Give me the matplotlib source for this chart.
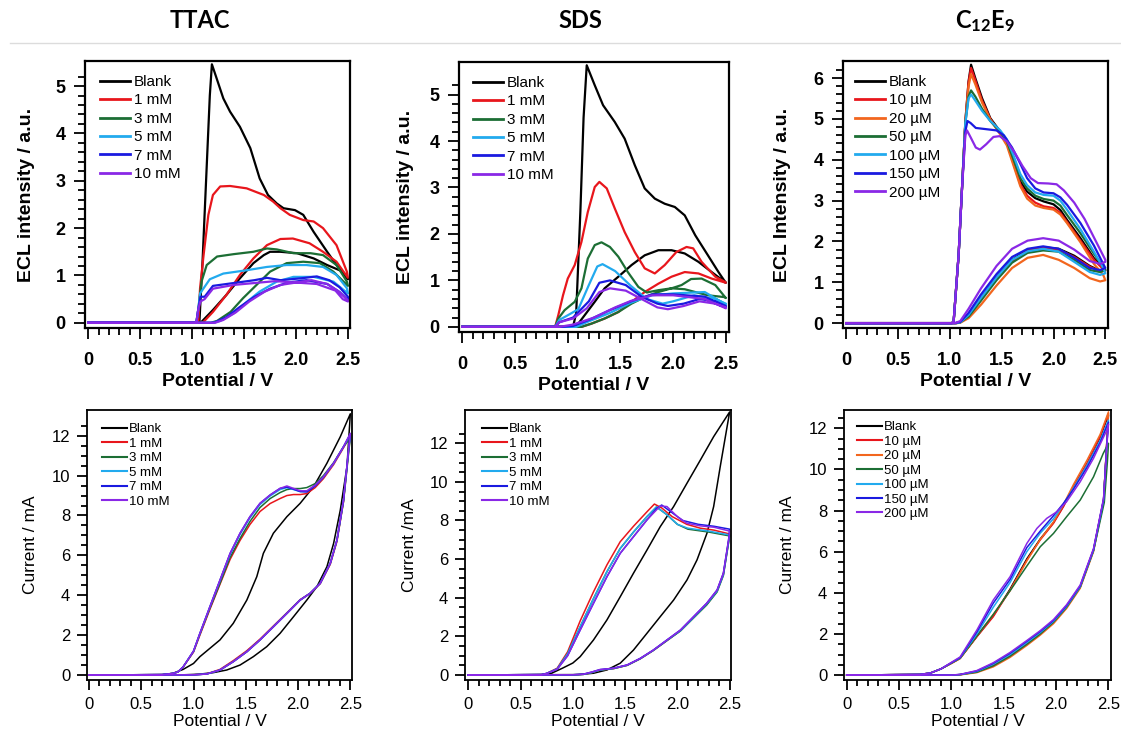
"""
ECL intensity and cyclic voltammetry for TTAC, SDS and C12E9 surfactants.
Six panels: ECL (top row) and current (bottom row) vs. potential.
"""
import numpy as np
import matplotlib
matplotlib.use("Agg")
import matplotlib.pyplot as plt
from matplotlib.lines import Line2D

plt.rcParams['font.family'] = ['Liberation Sans', 'DejaVu Sans']
plt.rcParams['mathtext.fontset'] = 'custom'
plt.rcParams['mathtext.rm'] = 'Lato:bold'
plt.rcParams['mathtext.it'] = 'Lato:bold'

# ---------------------------------------------------------------- colours
C_BLANK = '#000000'
C_RED = '#e8161c'
C_ORANGE = '#f2661e'
C_GREEN = '#1c6e34'
C_CYAN = '#22aaee'
C_BLUE = '#1a1ae0'
C_PURPLE = '#8a28e6'

# ---------------------------------------------------------------- labels
MM_LABELS = ['Blank', '1 mM', '3 mM', '5 mM', '7 mM', '10 mM']
UM_LABELS = ['Blank', '10 µM', '20 µM', '50 µM', '100 µM', '150 µM', '200 µM']
MM_COLORS = [C_BLANK, C_RED, C_GREEN, C_CYAN, C_BLUE, C_PURPLE]
UM_COLORS = [C_BLANK, C_RED, C_ORANGE, C_GREEN, C_CYAN, C_BLUE, C_PURPLE]

# ---------------------------------------------------------------- TTAC ECL  (potential V, intensity a.u.)
TTAC_ECL_BLANK = [(0, 0), (1.05, 0), (1.07, 0.02), (1.10, 1.3), (1.14, 3.3), (1.17, 4.8), (1.19, 5.46),
                  (1.23, 5.2), (1.30, 4.74), (1.365, 4.46), (1.46, 4.14), (1.56, 3.69), (1.65, 3.05),
                  (1.73, 2.70), (1.815, 2.52), (1.88, 2.42), (1.99, 2.38), (2.07, 2.28), (2.17, 1.92),
                  (2.30, 1.50), (2.39, 1.22), (2.49, 0.97), (2.50, 0.92), (2.43, 1.10), (2.30, 1.22),
                  (2.17, 1.36), (2.01, 1.47), (1.85, 1.50), (1.75, 1.50), (1.69, 1.43), (1.59, 1.26),
                  (1.46, 0.94), (1.33, 0.59), (1.20, 0.27), (1.09, 0.02), (1.05, 0), (0, 0)]
TTAC_ECL_1MM = [(0, 0), (1.03, 0), (1.06, 0.05), (1.076, 0.73), (1.11, 1.43), (1.156, 2.28), (1.20, 2.70),
                (1.27, 2.88), (1.365, 2.89), (1.525, 2.84), (1.69, 2.70), (1.78, 2.56), (1.85, 2.42),
                (1.94, 2.28), (2.07, 2.17), (2.17, 2.14), (2.26, 2.0), (2.39, 1.64), (2.49, 1.08),
                (2.50, 0.95), (2.39, 1.29), (2.26, 1.50), (2.13, 1.68), (1.97, 1.78), (1.85, 1.77),
                (1.72, 1.64), (1.59, 1.36), (1.46, 1.01), (1.33, 0.59), (1.20, 0.23), (1.11, 0.02),
                (1.08, 0), (0, 0)]
TTAC_ECL_3MM = [(0, 0), (1.04, 0), (1.06, 0.3), (1.09, 0.87), (1.14, 1.22), (1.24, 1.40), (1.40, 1.45),
                (1.59, 1.50), (1.72, 1.57), (1.815, 1.55), (1.975, 1.47), (2.14, 1.47), (2.26, 1.43),
                (2.39, 1.22), (2.49, 0.87), (2.50, 0.78), (2.36, 1.08), (2.23, 1.26), (2.07, 1.29),
                (1.91, 1.26), (1.75, 1.08), (1.62, 0.80), (1.49, 0.52), (1.37, 0.23), (1.24, 0.04),
                (1.18, 0), (0, 0)]
TTAC_ECL_5MM = [(0, 0), (1.04, 0), (1.06, 0.3), (1.076, 0.62), (1.17, 0.92), (1.30, 1.04), (1.525, 1.11),
                (1.72, 1.18), (1.91, 1.22), (2.10, 1.22), (2.26, 1.18), (2.39, 1.01), (2.49, 0.73),
                (2.50, 0.62), (2.36, 0.87), (2.17, 0.97), (1.975, 0.97), (1.815, 0.87), (1.65, 0.66),
                (1.525, 0.44), (1.40, 0.20), (1.27, 0.04), (1.20, 0), (0, 0)]
TTAC_ECL_7MM = [(0, 0), (1.04, 0), (1.06, 0.3), (1.08, 0.55), (1.12, 0.55), (1.20, 0.78), (1.40, 0.84),
                (1.60, 0.90), (1.72, 0.95), (1.85, 0.90), (2.05, 0.94), (2.20, 0.98), (2.32, 0.90),
                (2.42, 0.75), (2.50, 0.55), (2.50, 0.48), (2.42, 0.65), (2.30, 0.82), (2.10, 0.90),
                (1.92, 0.85), (1.75, 0.72), (1.60, 0.55), (1.45, 0.32), (1.33, 0.12), (1.22, 0.01),
                (1.18, 0), (0, 0)]
TTAC_ECL_10MM = [(0, 0), (1.04, 0), (1.06, 0.3), (1.08, 0.45), (1.12, 0.50), (1.20, 0.72), (1.40, 0.80),
                 (1.60, 0.84), (1.80, 0.88), (2.00, 0.85), (2.15, 0.90), (2.30, 0.82), (2.40, 0.68),
                 (2.50, 0.48), (2.50, 0.45), (2.45, 0.50), (2.38, 0.68), (2.20, 0.82), (2.00, 0.85),
                 (1.85, 0.80), (1.70, 0.66), (1.55, 0.45), (1.42, 0.22), (1.30, 0.06), (1.22, 0), (0, 0)]

# ---------------------------------------------------------------- SDS ECL
SDS_ECL_BLANK = [(0, 0), (1.05, 0), (1.08, 0.3), (1.12, 2.5), (1.15, 4.5), (1.18, 5.63), (1.256, 5.20),
                 (1.335, 4.77), (1.446, 4.41), (1.54, 4.05), (1.636, 3.48), (1.73, 2.98), (1.826, 2.76),
                 (1.92, 2.65), (2.016, 2.58), (2.11, 2.40), (2.21, 1.97), (2.33, 1.54), (2.43, 1.18),
                 (2.49, 0.98), (2.50, 0.95), (2.365, 1.18), (2.24, 1.40), (2.11, 1.58), (1.985, 1.65),
                 (1.86, 1.65), (1.73, 1.54), (1.605, 1.33), (1.48, 1.08), (1.35, 0.83), (1.256, 0.54),
                 (1.16, 0.25), (1.10, 0.07), (1.05, 0), (0, 0)]
SDS_ECL_1MM = [(0, 0), (0.88, 0), (0.91, 0.25), (0.955, 0.68), (1.0, 1.04), (1.066, 1.33), (1.13, 1.83),
               (1.19, 2.47), (1.256, 3.01), (1.30, 3.12), (1.37, 2.98), (1.446, 2.55), (1.54, 2.04),
               (1.636, 1.61), (1.73, 1.26), (1.826, 1.15), (1.92, 1.33), (2.03, 1.61), (2.127, 1.72),
               (2.19, 1.69), (2.27, 1.40), (2.40, 1.08), (2.49, 0.97), (2.50, 0.95), (2.365, 1.04),
               (2.24, 1.15), (2.11, 1.18), (1.985, 1.08), (1.86, 0.93), (1.73, 0.75), (1.605, 0.54),
               (1.48, 0.32), (1.35, 0.18), (1.225, 0.07), (1.13, 0), (0, 0)]
SDS_ECL_3MM = [(0, 0), (0.88, 0), (0.91, 0.18), (0.97, 0.36), (1.066, 0.54), (1.13, 0.83), (1.19, 1.47),
               (1.256, 1.76), (1.32, 1.82), (1.40, 1.72), (1.48, 1.51), (1.57, 1.18), (1.67, 0.86),
               (1.75, 0.74), (1.86, 0.79), (1.985, 0.83), (2.11, 0.81), (2.21, 0.75), (2.33, 0.68),
               (2.49, 0.64), (2.50, 0.62), (2.40, 0.90), (2.27, 1.04), (2.17, 1.03), (2.08, 0.90),
               (1.985, 0.83), (1.86, 0.75), (1.73, 0.64), (1.605, 0.50), (1.48, 0.32), (1.35, 0.18),
               (1.225, 0.07), (1.13, 0), (0, 0)]
SDS_ECL_5MM = [(0, 0), (0.88, 0), (0.92, 0.15), (1.0, 0.25), (1.10, 0.38), (1.20, 0.90), (1.28, 1.30),
               (1.33, 1.35), (1.45, 1.20), (1.60, 0.88), (1.75, 0.60), (1.90, 0.50), (2.00, 0.55),
               (2.20, 0.68), (2.40, 0.60), (2.50, 0.50), (2.50, 0.48), (2.30, 0.75), (2.00, 0.72),
               (1.80, 0.68), (1.60, 0.52), (1.40, 0.30), (1.20, 0.12), (1.08, 0), (0, 0)]
SDS_ECL_7MM = [(0, 0), (0.88, 0), (0.92, 0.10), (1.05, 0.20), (1.20, 0.55), (1.30, 0.95), (1.40, 1.00),
               (1.55, 0.90), (1.70, 0.65), (1.85, 0.50), (1.95, 0.45), (2.10, 0.50), (2.25, 0.60),
               (2.40, 0.55), (2.50, 0.45), (2.50, 0.43), (2.30, 0.65), (2.00, 0.70), (1.80, 0.70),
               (1.60, 0.55), (1.40, 0.36), (1.20, 0.15), (1.05, 0.02), (0.95, 0), (0, 0)]
SDS_ECL_10MM = [(0, 0), (0.88, 0), (0.92, 0.10), (1.05, 0.18), (1.18, 0.40), (1.30, 0.75), (1.40, 0.83),
                (1.55, 0.78), (1.70, 0.60), (1.85, 0.42), (1.95, 0.38), (2.10, 0.45), (2.25, 0.55),
                (2.40, 0.50), (2.50, 0.42), (2.50, 0.40), (2.30, 0.60), (2.00, 0.68), (1.80, 0.68),
                (1.60, 0.56), (1.45, 0.42), (1.25, 0.20), (1.05, 0.05), (0.92, 0), (0, 0)]

# ---------------------------------------------------------------- C12E9 ECL
C12_ECL_BLANK = [(0, 0), (1.02, 0), (1.036, 0.04), (1.084, 1.67), (1.117, 3.31), (1.149, 4.94), (1.18, 5.92),
                 (1.204, 6.33), (1.245, 6.0), (1.31, 5.51), (1.39, 5.02), (1.486, 4.69), (1.55, 4.45),
                 (1.615, 3.96), (1.68, 3.47), (1.745, 3.22), (1.824, 3.06), (1.905, 2.98), (2.0, 2.91),
                 (2.066, 2.77), (2.13, 2.53), (2.26, 2.08), (2.39, 1.59), (2.48, 1.35), (2.50, 1.30),
                 (2.45, 1.28), (2.35, 1.40), (2.20, 1.65), (2.05, 1.82), (1.90, 1.86), (1.75, 1.80),
                 (1.60, 1.55), (1.45, 1.12), (1.30, 0.60), (1.18, 0.20), (1.10, 0.02), (1.06, 0), (0, 0)]
C12_ECL_10UM = [(0, 0), (1.02, 0), (1.036, 0.04), (1.084, 1.67), (1.117, 3.31), (1.149, 4.94), (1.18, 5.90),
                (1.204, 6.25), (1.245, 5.95), (1.31, 5.45), (1.39, 5.0), (1.486, 4.65), (1.55, 4.42),
                (1.615, 3.90), (1.68, 3.40), (1.745, 3.12), (1.824, 2.95), (1.905, 2.86), (2.0, 2.82),
                (2.066, 2.70), (2.13, 2.48), (2.26, 2.02), (2.39, 1.55), (2.48, 1.32), (2.50, 1.28),
                (2.45, 1.27), (2.35, 1.38), (2.20, 1.62), (2.05, 1.80), (1.90, 1.84), (1.75, 1.78),
                (1.60, 1.52), (1.45, 1.10), (1.30, 0.58), (1.18, 0.18), (1.10, 0.02), (1.06, 0), (0, 0)]
C12_ECL_20UM = [(0, 0), (1.02, 0), (1.036, 0.04), (1.084, 1.67), (1.117, 3.31), (1.149, 4.90), (1.18, 5.80),
                (1.204, 6.10), (1.245, 5.85), (1.31, 5.40), (1.39, 4.98), (1.486, 4.62), (1.55, 4.35),
                (1.615, 3.85), (1.68, 3.35), (1.745, 3.05), (1.824, 2.88), (1.905, 2.82), (2.0, 2.78),
                (2.066, 2.66), (2.13, 2.45), (2.26, 1.98), (2.39, 1.45), (2.48, 1.18), (2.50, 1.05),
                (2.45, 1.02), (2.35, 1.10), (2.20, 1.35), (2.05, 1.55), (1.90, 1.67), (1.75, 1.60),
                (1.60, 1.35), (1.45, 0.92), (1.30, 0.45), (1.18, 0.12), (1.10, 0.01), (1.07, 0), (0, 0)]
C12_ECL_50UM = [(0, 0), (1.02, 0), (1.036, 0.04), (1.084, 1.67), (1.117, 3.31), (1.149, 4.90), (1.18, 5.55),
                (1.204, 5.70), (1.245, 5.55), (1.31, 5.25), (1.39, 4.95), (1.486, 4.68), (1.55, 4.45),
                (1.615, 4.0), (1.68, 3.55), (1.745, 3.30), (1.824, 3.12), (1.905, 3.04), (2.0, 3.0),
                (2.066, 2.88), (2.13, 2.65), (2.26, 2.20), (2.39, 1.70), (2.48, 1.38), (2.50, 1.30),
                (2.45, 1.25), (2.35, 1.30), (2.20, 1.55), (2.05, 1.75), (1.90, 1.78), (1.75, 1.72),
                (1.60, 1.48), (1.45, 1.05), (1.30, 0.55), (1.18, 0.16), (1.10, 0.02), (1.06, 0), (0, 0)]
C12_ECL_100UM = [(0, 0), (1.02, 0), (1.036, 0.04), (1.084, 1.67), (1.117, 3.31), (1.149, 4.90), (1.18, 5.50),
                 (1.204, 5.60), (1.245, 5.45), (1.31, 5.20), (1.39, 4.95), (1.486, 4.72), (1.55, 4.50),
                 (1.615, 4.10), (1.68, 3.65), (1.745, 3.38), (1.824, 3.20), (1.905, 3.14), (2.0, 3.12),
                 (2.066, 3.0), (2.13, 2.78), (2.26, 2.30), (2.39, 1.75), (2.48, 1.35), (2.50, 1.22),
                 (2.45, 1.18), (2.35, 1.25), (2.20, 1.50), (2.05, 1.75), (1.90, 1.82), (1.75, 1.76),
                 (1.60, 1.55), (1.45, 1.12), (1.30, 0.62), (1.18, 0.20), (1.10, 0.02), (1.06, 0), (0, 0)]
C12_ECL_150UM = [(0, 0), (1.02, 0), (1.036, 0.04), (1.084, 1.67), (1.117, 3.31), (1.149, 4.70), (1.17, 4.95),
                 (1.20, 4.90), (1.25, 4.78), (1.35, 4.75), (1.45, 4.72), (1.52, 4.60), (1.60, 4.30),
                 (1.68, 3.90), (1.745, 3.55), (1.824, 3.30), (1.905, 3.20), (2.0, 3.18), (2.066, 3.08),
                 (2.13, 2.90), (2.26, 2.45), (2.39, 1.90), (2.48, 1.45), (2.50, 1.35), (2.45, 1.30),
                 (2.35, 1.35), (2.20, 1.60), (2.05, 1.82), (1.90, 1.88), (1.75, 1.82), (1.60, 1.62),
                 (1.45, 1.20), (1.30, 0.70), (1.18, 0.25), (1.10, 0.03), (1.05, 0), (0, 0)]
C12_ECL_200UM = [(0, 0), (1.02, 0), (1.036, 0.04), (1.084, 1.67), (1.117, 3.31), (1.149, 4.60), (1.165, 4.72),
                 (1.20, 4.55), (1.25, 4.30), (1.29, 4.25), (1.35, 4.38), (1.42, 4.56), (1.48, 4.58),
                 (1.55, 4.45), (1.62, 4.20), (1.70, 3.85), (1.78, 3.55), (1.85, 3.43), (1.95, 3.42),
                 (2.03, 3.40), (2.10, 3.25), (2.20, 2.95), (2.30, 2.55), (2.40, 2.05), (2.48, 1.65),
                 (2.50, 1.55), (2.50, 1.50), (2.45, 1.45), (2.35, 1.52), (2.20, 1.80), (2.05, 2.02),
                 (1.90, 2.08), (1.75, 2.02), (1.60, 1.82), (1.45, 1.40), (1.30, 0.85), (1.18, 0.35),
                 (1.10, 0.05), (1.05, 0), (0, 0)]

# ---------------------------------------------------------------- TTAC CV  (potential V, current mA)
TTAC_CV_BLANK = [(0, 0), (0.70, 0.02), (0.80, 0.08), (0.90, 0.28), (1.0, 0.58), (1.061, 0.92), (1.253, 1.76),
                 (1.38, 2.59), (1.51, 3.76), (1.605, 4.93), (1.668, 6.10), (1.764, 7.11), (1.893, 7.94),
                 (2.02, 8.61), (2.148, 9.44), (2.276, 10.62), (2.404, 11.95), (2.50, 13.1), (2.468, 10.45),
                 (2.404, 8.27), (2.34, 6.60), (2.276, 5.43), (2.18, 4.43), (2.084, 3.76), (1.956, 2.92),
                 (1.828, 2.09), (1.70, 1.42), (1.572, 0.92), (1.445, 0.50), (1.317, 0.25), (1.19, 0.12),
                 (1.05, 0.04), (0.90, 0.01), (0, 0)]
TTAC_CV_1MM = [(0, 0), (0.70, 0.02), (0.80, 0.08), (0.85, 0.15), (0.90, 0.40), (1.0, 1.15), (1.061, 2.0),
               (1.157, 3.30), (1.253, 4.55), (1.35, 5.80), (1.445, 6.75), (1.54, 7.55), (1.636, 8.20),
               (1.733, 8.60), (1.828, 8.85), (1.893, 9.0), (1.956, 9.05), (2.02, 9.05), (2.084, 9.10),
               (2.164, 9.40), (2.243, 9.85), (2.34, 10.55), (2.435, 11.40), (2.50, 12.0), (2.483, 11.2),
               (2.435, 8.70), (2.372, 6.70), (2.308, 5.55), (2.212, 4.58), (2.116, 4.10), (2.02, 3.78),
               (1.893, 3.12), (1.764, 2.46), (1.636, 1.80), (1.51, 1.22), (1.38, 0.72), (1.253, 0.28),
               (1.126, 0.06), (1.0, 0.01), (0, 0)]
TTAC_CV_3MM = [(0, 0), (0.70, 0.02), (0.80, 0.08), (0.85, 0.15), (0.90, 0.40), (1.0, 1.18), (1.061, 2.05),
               (1.157, 3.35), (1.253, 4.60), (1.35, 5.90), (1.445, 6.85), (1.54, 7.70), (1.636, 8.40),
               (1.733, 8.85), (1.828, 9.15), (1.893, 9.30), (1.956, 9.35), (2.02, 9.35), (2.084, 9.40),
               (2.164, 9.60), (2.243, 10.0), (2.34, 10.65), (2.435, 11.45), (2.50, 11.9), (2.483, 11.1),
               (2.435, 8.70), (2.372, 6.75), (2.308, 5.60), (2.212, 4.60), (2.116, 4.10), (2.02, 3.76),
               (1.893, 3.09), (1.764, 2.42), (1.636, 1.76), (1.51, 1.17), (1.38, 0.67), (1.253, 0.25),
               (1.126, 0.05), (1.0, 0.01), (0, 0)]
TTAC_CV_5MM = [(0, 0), (0.70, 0.02), (0.80, 0.08), (0.85, 0.15), (0.90, 0.40), (1.0, 1.20), (1.061, 2.08),
               (1.157, 3.42), (1.253, 4.72), (1.35, 6.05), (1.445, 7.05), (1.54, 7.88), (1.636, 8.55),
               (1.733, 8.98), (1.828, 9.30), (1.893, 9.40), (1.956, 9.30), (2.02, 9.20), (2.084, 9.20),
               (2.164, 9.50), (2.243, 9.92), (2.34, 10.6), (2.435, 11.45), (2.50, 12.05), (2.483, 11.25),
               (2.435, 8.78), (2.372, 6.77), (2.308, 5.60), (2.212, 4.60), (2.116, 4.10), (2.02, 3.76),
               (1.893, 3.09), (1.764, 2.42), (1.636, 1.76), (1.51, 1.17), (1.38, 0.67), (1.253, 0.25),
               (1.126, 0.05), (1.0, 0.01), (0, 0)]
TTAC_CV_7MM = [(0, 0), (0.70, 0.02), (0.80, 0.08), (0.85, 0.15), (0.90, 0.40), (1.0, 1.20), (1.061, 2.09),
               (1.157, 3.43), (1.253, 4.76), (1.35, 6.10), (1.445, 7.11), (1.54, 7.94), (1.636, 8.61),
               (1.733, 9.03), (1.828, 9.36), (1.893, 9.42), (1.956, 9.32), (2.02, 9.20), (2.084, 9.18),
               (2.164, 9.48), (2.243, 9.92), (2.34, 10.62), (2.435, 11.45), (2.50, 12.1), (2.483, 11.28),
               (2.435, 8.78), (2.372, 6.77), (2.308, 5.60), (2.212, 4.60), (2.116, 4.10), (2.02, 3.76),
               (1.893, 3.09), (1.764, 2.42), (1.636, 1.76), (1.51, 1.17), (1.38, 0.67), (1.253, 0.25),
               (1.126, 0.05), (1.0, 0.01), (0, 0)]
TTAC_CV_10MM = [(0, 0), (0.70, 0.02), (0.80, 0.08), (0.85, 0.15), (0.90, 0.40), (1.0, 1.20), (1.061, 2.09),
                (1.157, 3.43), (1.253, 4.76), (1.35, 6.10), (1.445, 7.11), (1.54, 7.94), (1.636, 8.61),
                (1.733, 9.03), (1.828, 9.36), (1.893, 9.48), (1.956, 9.36), (2.02, 9.24), (2.084, 9.24),
                (2.164, 9.53), (2.243, 9.94), (2.34, 10.62), (2.435, 11.45), (2.50, 12.12), (2.483, 11.28),
                (2.435, 8.78), (2.372, 6.77), (2.308, 5.60), (2.212, 4.60), (2.116, 4.10), (2.02, 3.76),
                (1.893, 3.09), (1.764, 2.42), (1.636, 1.76), (1.51, 1.17), (1.38, 0.67), (1.253, 0.25),
                (1.126, 0.05), (1.0, 0.01), (0, 0)]

# ---------------------------------------------------------------- SDS CV
SDS_CV_BLANK = [(0, 0), (0.70, 0.02), (0.80, 0.10), (0.90, 0.35), (1.0, 0.62), (1.07, 0.95), (1.197, 1.81),
                (1.326, 2.85), (1.453, 4.05), (1.58, 5.27), (1.709, 6.47), (1.836, 7.68), (1.964, 8.72),
                (2.092, 9.93), (2.22, 11.13), (2.347, 12.34), (2.50, 13.62), (2.41, 10.79), (2.347, 8.72),
                (2.283, 7.34), (2.188, 5.96), (2.092, 4.92), (1.964, 3.88), (1.836, 3.02), (1.709, 2.16),
                (1.58, 1.29), (1.453, 0.61), (1.326, 0.26), (1.197, 0.09), (1.05, 0.02), (0, 0)]
SDS_CV_1MM = [(0, 0), (0.70, 0.02), (0.75, 0.08), (0.85, 0.35), (0.95, 1.20), (1.07, 2.80), (1.197, 4.30),
              (1.326, 5.70), (1.453, 6.90), (1.58, 7.70), (1.709, 8.45), (1.78, 8.85), (1.85, 8.65),
              (1.95, 8.20), (2.09, 7.80), (2.22, 7.60), (2.35, 7.50), (2.50, 7.30), (2.49, 6.90),
              (2.44, 5.20), (2.38, 4.35), (2.28, 3.65), (2.155, 2.98), (2.03, 2.30), (1.90, 1.78),
              (1.77, 1.27), (1.645, 0.84), (1.52, 0.50), (1.39, 0.33), (1.26, 0.25), (1.18, 0.12),
              (1.10, 0.03), (1.0, 0.01), (0, 0)]
SDS_CV_3MM = [(0, 0), (0.70, 0.02), (0.75, 0.08), (0.85, 0.32), (0.95, 1.10), (1.07, 2.50), (1.197, 3.95),
              (1.326, 5.35), (1.453, 6.55), (1.58, 7.40), (1.709, 8.20), (1.80, 8.70), (1.90, 8.30),
              (2.0, 7.80), (2.10, 7.55), (2.30, 7.40), (2.50, 7.20), (2.49, 6.85), (2.44, 5.15),
              (2.38, 4.30), (2.28, 3.62), (2.155, 2.95), (2.03, 2.28), (1.90, 1.78), (1.77, 1.27),
              (1.645, 0.84), (1.52, 0.50), (1.39, 0.33), (1.26, 0.25), (1.18, 0.12), (1.10, 0.03),
              (1.0, 0.01), (0, 0)]
SDS_CV_5MM = [(0, 0), (0.70, 0.02), (0.75, 0.08), (0.85, 0.32), (0.95, 1.10), (1.07, 2.50), (1.197, 3.95),
              (1.326, 5.35), (1.453, 6.55), (1.58, 7.40), (1.709, 8.20), (1.80, 8.70), (1.90, 8.30),
              (2.0, 7.80), (2.10, 7.60), (2.30, 7.45), (2.50, 7.25), (2.49, 6.90), (2.44, 5.20),
              (2.38, 4.35), (2.28, 3.67), (2.155, 2.98), (2.03, 2.30), (1.90, 1.80), (1.77, 1.28),
              (1.645, 0.85), (1.52, 0.51), (1.39, 0.34), (1.26, 0.26), (1.18, 0.13), (1.10, 0.03),
              (1.0, 0.01), (0, 0)]
SDS_CV_7MM = [(0, 0), (0.70, 0.02), (0.75, 0.08), (0.85, 0.30), (0.95, 1.0), (1.07, 2.33), (1.197, 3.71),
              (1.326, 5.09), (1.453, 6.30), (1.58, 7.16), (1.709, 8.03), (1.80, 8.62), (1.85, 8.80),
              (1.95, 8.40), (2.05, 8.0), (2.20, 7.80), (2.35, 7.70), (2.50, 7.55), (2.49, 7.0),
              (2.44, 5.27), (2.38, 4.40), (2.28, 3.71), (2.155, 3.02), (2.03, 2.33), (1.90, 1.81),
              (1.77, 1.29), (1.645, 0.86), (1.52, 0.52), (1.39, 0.35), (1.26, 0.28), (1.18, 0.15),
              (1.10, 0.04), (1.0, 0.01), (0, 0)]
SDS_CV_10MM = [(0, 0), (0.70, 0.02), (0.75, 0.08), (0.85, 0.30), (0.95, 1.0), (1.07, 2.33), (1.197, 3.71),
               (1.326, 5.09), (1.453, 6.30), (1.58, 7.16), (1.709, 8.03), (1.836, 8.75), (1.90, 8.72),
               (2.0, 8.20), (2.09, 7.86), (2.22, 7.72), (2.35, 7.65), (2.50, 7.45), (2.49, 6.99),
               (2.44, 5.27), (2.38, 4.40), (2.28, 3.71), (2.155, 3.02), (2.03, 2.33), (1.90, 1.81),
               (1.77, 1.29), (1.645, 0.86), (1.52, 0.52), (1.39, 0.35), (1.26, 0.28), (1.18, 0.15),
               (1.10, 0.04), (1.0, 0.01), (0, 0)]

# ---------------------------------------------------------------- C12E9 CV
C12_CV_BLANK = [(0, 0), (0.70, 0.03), (0.80, 0.10), (0.90, 0.30), (1.0, 0.58), (1.083, 0.82), (1.243, 1.88),
                (1.40, 2.88), (1.56, 4.18), (1.72, 5.65), (1.848, 6.62), (1.975, 7.42), (2.07, 8.22),
                (2.167, 9.16), (2.295, 10.28), (2.42, 11.55), (2.50, 12.65), (2.485, 11.4), (2.453, 8.5),
                (2.357, 6.06), (2.23, 4.28), (2.10, 3.31), (1.975, 2.58), (1.848, 2.02), (1.72, 1.53),
                (1.56, 0.97), (1.40, 0.50), (1.243, 0.17), (1.083, 0.02), (1.0, 0), (0, 0)]
C12_CV_10UM = [(0, 0), (0.70, 0.03), (0.80, 0.10), (0.90, 0.30), (1.0, 0.58), (1.083, 0.81), (1.243, 1.86),
               (1.40, 2.84), (1.56, 4.13), (1.72, 5.59), (1.848, 6.57), (1.975, 7.38), (2.07, 8.19),
               (2.167, 9.16), (2.295, 10.30), (2.42, 11.59), (2.50, 12.73), (2.485, 11.43), (2.453, 8.51),
               (2.357, 6.08), (2.23, 4.30), (2.10, 3.32), (1.975, 2.59), (1.848, 2.03), (1.72, 1.54),
               (1.56, 0.97), (1.40, 0.49), (1.243, 0.16), (1.083, 0.02), (1.0, 0), (0, 0)]
C12_CV_20UM = [(0, 0), (0.70, 0.03), (0.80, 0.10), (0.90, 0.30), (1.0, 0.56), (1.083, 0.80), (1.243, 1.90),
               (1.40, 2.95), (1.56, 4.10), (1.72, 5.55), (1.848, 6.60), (1.975, 7.45), (2.07, 8.30),
               (2.167, 9.28), (2.295, 10.45), (2.42, 11.70), (2.50, 12.80), (2.485, 11.45), (2.453, 8.45),
               (2.357, 6.0), (2.23, 4.22), (2.10, 3.24), (1.975, 2.50), (1.848, 1.94), (1.72, 1.44),
               (1.56, 0.86), (1.40, 0.40), (1.243, 0.12), (1.083, 0.01), (1.0, 0), (0, 0)]
C12_CV_50UM = [(0, 0), (0.70, 0.03), (0.80, 0.10), (0.90, 0.30), (1.0, 0.58), (1.083, 0.82), (1.243, 1.90),
               (1.40, 2.95), (1.56, 4.10), (1.72, 5.30), (1.848, 6.24), (1.975, 6.89), (2.10, 7.70),
               (2.23, 8.51), (2.357, 9.64), (2.45, 10.78), (2.50, 11.27), (2.49, 10.4), (2.46, 8.4),
               (2.357, 6.05), (2.23, 4.28), (2.10, 3.30), (1.975, 2.57), (1.848, 2.0), (1.72, 1.50),
               (1.56, 0.92), (1.40, 0.45), (1.243, 0.14), (1.083, 0.02), (1.0, 0), (0, 0)]
C12_CV_100UM = [(0, 0), (0.70, 0.03), (0.80, 0.10), (0.90, 0.30), (1.0, 0.60), (1.083, 0.84), (1.243, 2.0),
                (1.40, 3.30), (1.56, 4.50), (1.72, 6.0), (1.848, 6.90), (1.975, 7.60), (2.07, 8.30),
                (2.167, 9.10), (2.295, 10.20), (2.42, 11.40), (2.50, 12.40), (2.485, 11.3), (2.453, 8.5),
                (2.357, 6.08), (2.23, 4.30), (2.10, 3.34), (1.975, 2.62), (1.848, 2.07), (1.72, 1.58),
                (1.56, 1.0), (1.40, 0.53), (1.243, 0.18), (1.083, 0.02), (1.0, 0), (0, 0)]
C12_CV_150UM = [(0, 0), (0.70, 0.03), (0.80, 0.10), (0.90, 0.30), (1.0, 0.60), (1.083, 0.85), (1.243, 2.10),
                (1.40, 3.50), (1.56, 4.65), (1.72, 6.20), (1.848, 7.0), (1.975, 7.75), (2.07, 8.35),
                (2.167, 9.05), (2.295, 10.10), (2.42, 11.30), (2.50, 12.30), (2.485, 11.3), (2.453, 8.55),
                (2.357, 6.12), (2.23, 4.34), (2.10, 3.38), (1.975, 2.66), (1.848, 2.12), (1.72, 1.64),
                (1.56, 1.06), (1.40, 0.57), (1.243, 0.20), (1.083, 0.03), (1.0, 0), (0, 0)]
C12_CV_200UM = [(0, 0), (0.70, 0.03), (0.80, 0.10), (0.90, 0.30), (1.0, 0.62), (1.083, 0.88), (1.243, 2.19),
                (1.40, 3.65), (1.56, 4.78), (1.72, 6.40), (1.816, 7.13), (1.91, 7.62), (2.006, 7.94),
                (2.10, 8.43), (2.23, 9.40), (2.357, 10.54), (2.485, 11.92), (2.50, 12.2), (2.485, 11.2),
                (2.453, 8.6), (2.357, 6.15), (2.23, 4.38), (2.10, 3.42), (1.975, 2.70), (1.848, 2.16),
                (1.72, 1.68), (1.56, 1.10), (1.40, 0.60), (1.243, 0.22), (1.083, 0.03), (1.0, 0), (0, 0)]

TTAC_ECL = [TTAC_ECL_BLANK, TTAC_ECL_1MM, TTAC_ECL_3MM, TTAC_ECL_5MM, TTAC_ECL_7MM, TTAC_ECL_10MM]
SDS_ECL = [SDS_ECL_BLANK, SDS_ECL_1MM, SDS_ECL_3MM, SDS_ECL_5MM, SDS_ECL_7MM, SDS_ECL_10MM]
C12_ECL = [C12_ECL_BLANK, C12_ECL_10UM, C12_ECL_20UM, C12_ECL_50UM, C12_ECL_100UM, C12_ECL_150UM, C12_ECL_200UM]
TTAC_CV = [TTAC_CV_BLANK, TTAC_CV_1MM, TTAC_CV_3MM, TTAC_CV_5MM, TTAC_CV_7MM, TTAC_CV_10MM]
SDS_CV = [SDS_CV_BLANK, SDS_CV_1MM, SDS_CV_3MM, SDS_CV_5MM, SDS_CV_7MM, SDS_CV_10MM]
C12_CV = [C12_CV_BLANK, C12_CV_10UM, C12_CV_20UM, C12_CV_50UM, C12_CV_100UM, C12_CV_150UM, C12_CV_200UM]

W, H = 1121, 735


def axes_px(fig, left, top, right, bottom):
    """Create axes from pixel box (origin top-left)."""
    return fig.add_axes([left / W, 1 - bottom / H, (right - left) / W, (bottom - top) / H])


def draw_panel(ax, box, curves, labels, colors, xlim, ylim, yticks, yminor, ylabel, top_row,
               ylabel_px, xlabel_py, legend_px):
    left, top, right, bottom = box
    lw = 1.6 if top_row else 1.1
    for pts, lab, col in zip(curves, labels, colors):
        arr = np.array(pts, dtype=float)
        ax.plot(arr[:, 0], arr[:, 1], color=col, lw=lw, label=lab, solid_joinstyle='round')

    weight = 'bold' if top_row else 'normal'
    tick_fs = 13 if top_row else 12
    lab_fs = 14 if top_row else 12.5

    ax.set_xlim(*xlim)
    ax.set_ylim(*ylim)
    xt = np.arange(0, 2.51, 0.5)
    ax.set_xticks(xt, labels=['0'] + ['%.1f' % v for v in xt[1:]], fontweight=weight, fontsize=tick_fs)
    ax.set_xticks(np.arange(0, 2.51, 0.1), minor=True)
    ax.set_yticks(yticks, labels=[str(v) for v in yticks], fontweight=weight, fontsize=tick_fs)
    ax.set_yticks(np.arange(0, yticks[-1] + yminor * 1.5, yminor), minor=True)
    ax.tick_params(which='both', direction='out', top=False, right=False, width=1.3)
    if top_row:
        ax.tick_params(which='major', length=8)
        ax.tick_params(which='minor', length=5)
        ax.tick_params(axis='x', which='major', pad=9)
        ax.tick_params(axis='y', which='major', pad=6)
    else:
        ax.tick_params(which='major', length=7)
        ax.tick_params(which='minor', length=4)
        ax.tick_params(axis='x', which='major', pad=5)
        ax.tick_params(axis='y', which='major', pad=5)
    for sp in ax.spines.values():
        sp.set_linewidth(1.6 if top_row else 1.3)

    width, height = right - left, bottom - top
    ax.set_xlabel('Potential / V', fontweight=weight, fontsize=lab_fs)
    ax.xaxis.set_label_coords(0.5, -(xlabel_py - bottom) / height)
    ax.set_ylabel(ylabel, fontweight=weight, fontsize=lab_fs)
    ax.yaxis.set_label_coords((ylabel_px - left) / width, 0.5)
    ax.xaxis.label.set_verticalalignment('center')
    ax.yaxis.label.set_verticalalignment('center')

    lx, ly = legend_px
    anchor = ((lx - left) / width, 1 - (ly - top) / height)
    if top_row:
        leg = ax.legend(loc='upper left', bbox_to_anchor=anchor, frameon=False, fontsize=11,
                        handlelength=1.95, handletextpad=0.25, labelspacing=0.29, borderpad=0,
                        borderaxespad=0)
    else:
        leg = ax.legend(loc='upper left', bbox_to_anchor=anchor, frameon=False, fontsize=9.5,
                        handlelength=1.9, handletextpad=0.12, labelspacing=0.17, borderpad=0,
                        borderaxespad=0)
    for line in leg.get_lines():
        line.set_linewidth(2.0 if top_row else 1.5)


fig = plt.figure(figsize=(W / 100, H / 100), dpi=100)

# titles and separator
fig.text(200 / W, 1 - 21 / H, 'TTAC', ha='center', va='center', fontsize=17, fontweight='bold', family='Lato')
fig.text(580 / W, 1 - 21 / H, 'SDS', ha='center', va='center', fontsize=17, fontweight='bold', family='Lato')
fig.text(985 / W, 1 - 21 / H, r'$\mathrm{C_{12}E_{9}}$', ha='center', va='center', fontsize=17)
fig.add_artist(Line2D([10 / W, 1.0], [1 - 43 / H, 1 - 43 / H], color='#dcdcdc', lw=1))

panels = [
    ((85, 61, 350, 328), TTAC_ECL, MM_LABELS, MM_COLORS, (-0.032, 2.52), (-0.11, 5.53),
     [0, 1, 2, 3, 4, 5], 0.2, 'ECL intensity / a.u.', True, 27, 382, (100, 75)),
    ((459, 62, 729, 332), SDS_ECL, MM_LABELS, MM_COLORS, (-0.032, 2.53), (-0.11, 5.70),
     [0, 1, 2, 3, 4, 5], 0.2, 'ECL intensity / a.u.', True, 405, 385, (473, 76)),
    ((843, 61, 1108, 328), C12_ECL, UM_LABELS, UM_COLORS, (-0.032, 2.526), (-0.12, 6.42),
     [0, 1, 2, 3, 4, 5, 6], 0.2, 'ECL Intensity / a.u.', True, 783, 382, (855, 75)),
    ((87, 410, 352, 680), TTAC_CV, MM_LABELS, MM_COLORS, (-0.019, 2.516), (-0.25, 13.29),
     [0, 2, 4, 6, 8, 10, 12], 0.5, 'Current / mA', False, 31, 722, (102, 423)),
    ((465, 410, 731, 680), SDS_CV, MM_LABELS, MM_COLORS, (-0.032, 2.513), (-0.26, 13.72),
     [0, 2, 4, 6, 8, 10, 12], 0.5, 'Current /mA', False, 410, 722, (482, 423)),
    ((844, 410, 1111, 680), C12_CV, UM_LABELS, UM_COLORS, (-0.026, 2.524), (-0.24, 12.89),
     [0, 2, 4, 6, 8, 10, 12], 0.5, 'Current / mA', False, 787, 722, (857, 421)),
]

for spec in panels:
    box = spec[0]
    ax = axes_px(fig, *box)
    draw_panel(ax, *spec)

fig.savefig('out.png', dpi=100)
